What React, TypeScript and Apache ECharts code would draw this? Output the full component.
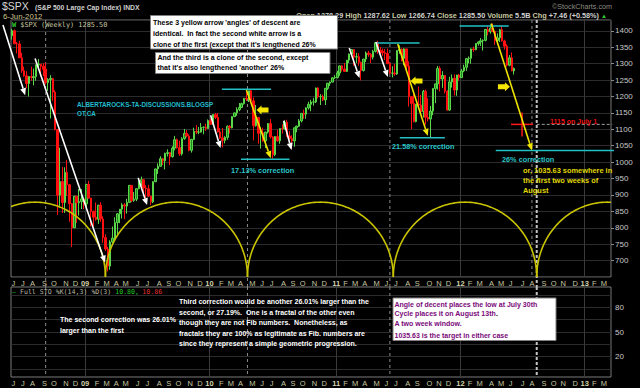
import React, { useEffect, useRef } from 'react';
import * as echarts from 'echarts';

// ---------- data ----------
const START_DATE = '2008-05-30'; // first weekly bar (Friday)
const WEEK_COUNT = 251; // weekly slots on the axis, through March 2013
const FIRST_OPEN = 1385;

const closes = [
  1400.4, 1360.7, 1360.0, 1317.9, 1278.4, 1262.9, 1239.5, 1260.7, 1257.8, 1260.3,
  1296.3, 1298.2, 1292.2, 1282.8, 1242.3, 1251.7, 1255.1, 1213.3, 1099.2, 899.2,
  940.6, 876.8, 968.8, 931.0, 873.3, 800.0, 896.2, 876.1, 879.7, 887.9,
  872.8, 931.8, 890.4, 850.1, 831.9, 825.9, 868.6, 826.8, 770.1, 735.1,
  683.4, 756.6, 768.5, 815.9, 842.5, 856.6, 869.6, 866.2, 877.5, 929.2,
  882.9, 887.0, 919.1, 940.1, 946.2, 921.2, 918.9, 896.4, 879.1, 940.4,
  979.3, 987.5, 1010.5, 1004.1, 1026.1, 1028.9, 1016.4, 1042.7, 1068.3, 1044.4,
  1025.2, 1071.5, 1087.7, 1079.6, 1036.2, 1069.3, 1093.5, 1091.4, 1091.5, 1106.0,
  1106.4, 1102.5, 1126.5, 1115.1, 1145.0, 1136.0, 1091.8, 1073.9, 1066.2, 1075.5,
  1109.2, 1104.5, 1138.7, 1150.0, 1159.9, 1166.6, 1178.1, 1194.4, 1192.1, 1217.3,
  1186.7, 1110.9, 1135.7, 1087.7, 1089.4, 1064.9, 1091.6, 1117.5, 1076.8, 1022.6,
  1078.0, 1064.9, 1102.7, 1101.6, 1121.6, 1079.3, 1071.7, 1064.6, 1104.5, 1109.6,
  1125.6, 1148.7, 1146.2, 1165.2, 1176.2, 1183.1, 1183.3, 1225.9, 1199.2, 1199.7,
  1189.4, 1224.7, 1240.4, 1243.9, 1256.8, 1257.6, 1271.5, 1293.2, 1283.4, 1276.3,
  1310.9, 1329.2, 1343.0, 1319.9, 1321.2, 1304.3, 1279.2, 1313.8, 1332.4, 1328.2,
  1319.7, 1337.4, 1363.6, 1340.2, 1337.8, 1333.3, 1331.1, 1300.2, 1271.0, 1271.5,
  1268.5, 1339.7, 1343.8, 1316.1, 1345.0, 1292.3, 1199.4, 1178.8, 1123.5, 1176.8,
  1174.0, 1154.2, 1216.0, 1136.4, 1131.4, 1155.5, 1224.6, 1238.3, 1285.1, 1253.2,
  1263.9, 1215.7, 1158.7, 1244.3, 1255.2, 1219.7, 1265.3, 1257.6, 1277.8, 1289.1,
  1315.4, 1316.3, 1344.9, 1342.6, 1361.2, 1365.7, 1369.6, 1370.9, 1404.2, 1397.1,
  1408.5, 1398.1, 1370.3, 1378.5, 1403.4, 1369.1, 1353.4, 1295.2, 1317.8, 1278.0, 1285.5,
];

const highs = [
  1406, 1404, 1366, 1370, 1333, 1291, 1277, 1262, 1291, 1285,
  1297, 1314, 1299, 1301, 1303, 1256, 1265, 1256, 1219, 1100,
  1044, 985, 984, 1007, 933, 875, 897, 897, 918, 918,
  890, 934, 943, 891, 852, 877, 870, 878, 835, 780,
  742, 762, 804, 832, 845, 857, 875, 875, 888, 930,
  930, 909, 920, 951, 956, 948, 930, 931, 897, 942,
  980, 996, 1018, 1012, 1029, 1039, 1030, 1048, 1080, 1072,
  1065, 1076, 1101, 1098, 1085, 1071, 1105, 1113, 1107, 1119,
  1108, 1117, 1130, 1133, 1146, 1150, 1150, 1104, 1104, 1079,
  1112, 1113, 1140, 1151, 1167, 1180, 1181, 1195, 1214, 1218,
  1220, 1197, 1174, 1138, 1105, 1105, 1092, 1119, 1131, 1079,
  1079, 1099, 1103, 1115, 1128, 1129, 1095, 1082, 1105, 1111,
  1131, 1149, 1160, 1167, 1184, 1190, 1196, 1227, 1228, 1207,
  1206, 1225, 1241, 1246, 1259, 1265, 1278, 1294, 1296, 1302,
  1311, 1331, 1344, 1344, 1333, 1332, 1306, 1315, 1337, 1339,
  1332, 1342, 1365, 1370, 1351, 1346, 1345, 1346, 1304, 1292,
  1299, 1341, 1356, 1347, 1347, 1346, 1307, 1201, 1208, 1177,
  1230, 1205, 1220, 1221, 1195, 1171, 1225, 1239, 1293, 1292,
  1277, 1265, 1219, 1260, 1267, 1267, 1266, 1269, 1284, 1297,
  1316, 1322, 1346, 1352, 1363, 1368, 1378, 1374, 1405, 1414,
  1420, 1422, 1400, 1392, 1406, 1415, 1373, 1359, 1326, 1334, 1288,
];

const lows = [
  1373, 1359, 1331, 1317, 1272, 1260, 1225, 1200, 1248, 1234,
  1248, 1284, 1261, 1262, 1236, 1217, 1133, 1187, 1097, 839,
  865, 845, 845, 897, 818, 741, 799, 815, 837, 857,
  857, 857, 889, 804, 804, 821, 812, 818, 754, 729,
  667, 672, 751, 764, 779, 814, 828, 826, 843, 875,
  878, 879, 881, 917, 928, 903, 888, 894, 869, 875,
  939, 964, 986, 991, 978, 1017, 991, 1014, 1036, 1041,
  1019, 1020, 1068, 1075, 1033, 1029, 1067, 1085, 1085, 1090,
  1085, 1095, 1102, 1114, 1114, 1131, 1090, 1071, 1045, 1057,
  1068, 1087, 1103, 1137, 1141, 1155, 1165, 1175, 1186, 1183,
  1181, 1066, 1108, 1056, 1041, 1062, 1043, 1087, 1072, 1011,
  1018, 1062, 1056, 1087, 1099, 1077, 1069, 1040, 1047, 1091,
  1107, 1121, 1132, 1132, 1160, 1155, 1172, 1180, 1194, 1174,
  1186, 1174, 1220, 1232, 1243, 1254, 1255, 1263, 1276, 1275,
  1275, 1302, 1325, 1294, 1302, 1294, 1249, 1276, 1305, 1321,
  1302, 1313, 1334, 1330, 1330, 1324, 1311, 1298, 1268, 1258,
  1263, 1266, 1330, 1307, 1295, 1282, 1169, 1101, 1121, 1121,
  1168, 1150, 1136, 1114, 1124, 1074, 1143, 1180, 1221, 1215,
  1226, 1209, 1157, 1157, 1227, 1203, 1202, 1248, 1256, 1274,
  1278, 1301, 1300, 1336, 1341, 1355, 1354, 1340, 1368, 1386,
  1391, 1397, 1357, 1358, 1366, 1367, 1343, 1291, 1292, 1277, 1267,
];

// cycle lows (yellow semicircle cycle lines)
const cycleLows = ['2008-01-11', '2009-02-27', '2010-04-19', '2011-06-20', '2012-08-13', '2013-10-01'];
const CYCLE_BASE = 650;
const CYCLE_PEAK = 878;

// [start date, start price, end date, end price]
const whiteArrows: [string, number, string, number][] = [
  ['2008-05-03', 1418, '2008-07-07', 1204],
  ['2008-08-05', 1316, '2009-02-26', 694],
  ['2009-06-03', 952, '2009-06-29', 869],
  ['2010-01-01', 1143, '2010-01-30', 1043],
  ['2010-08-03', 1126, '2010-08-26', 1037],
  ['2011-02-11', 1348, '2011-03-13', 1256],
  ['2011-04-30', 1366, '2011-06-04', 1259],
];
const yellowArrows: [string, number, string, number][] = [
  ['2010-04-16', 1220, '2010-06-26', 1012],
  ['2011-07-03', 1360, '2011-09-29', 1080],
  ['2012-04-02', 1422, '2012-07-30', 1035.63],
];
// [date, price, direction (-1 left, 1 right)]
const blockArrows: [string, number, number][] = [
  ['2010-06-02', 1159, -1],
  ['2011-08-27', 1247, -1],
  ['2012-05-09', 1230, 1],
];
// cyan horizontal levels [from, to, price]
const cyanLevels: [string, string, number][] = [
  ['2010-02-03', '2010-06-27', 1222],
  ['2010-03-31', '2010-08-20', 1009],
  ['2011-04-30', '2011-09-05', 1363],
  ['2011-07-09', '2011-11-18', 1074],
  ['2011-12-31', '2012-05-23', 1415],
  ['2012-04-15', '2013-03-27', 1035.63],
];
const targetLevel: [string, string, number] = ['2012-08-13', '2013-03-22', 1115];
const crossMark: [string, number] = ['2012-07-01', 1115];
// vertical dashed markers [date, kind]: 0 both panels, 1 price panel only, 2 heavy both panels
const cycleMarkers: [string, number][] = [
  ['2008-09-05', 0],
  ['2010-04-19', 0],
  ['2011-06-10', 0],
  ['2012-07-30', 1],
  ['2012-08-13', 2],
];

// ---------- helpers ----------
const F = '"Liberation Sans", Arial, Helvetica, sans-serif';
const MONO = '"DejaVu Sans Mono", "Liberation Mono", monospace';
const DAY = 86400000;
const T0 = Date.parse(START_DATE);
const weeks = Array.from({ length: WEEK_COUNT }, (_, i) => new Date(T0 + i * 7 * DAY).toISOString().slice(0, 10));
const toIdx = (d: string) => (Date.parse(d) - T0) / (7 * DAY);
const monthStart = weeks.map((w, i) => i > 0 && w.slice(5, 7) !== weeks[i - 1].slice(5, 7));
const yearStart = weeks.map((w, i) => monthStart[i] && w.slice(5, 7) === '01');
const MONTH_INITIALS = ['J', 'F', 'M', 'A', 'M', 'J', 'J', 'A', 'S', 'O', 'N', 'D'];
const xLabel = (i: number) => {
  const w = weeks[i];
  const m = +w.slice(5, 7);
  return m === 1 ? `{y|${w.slice(2, 4)}}` : MONTH_INITIALS[m - 1];
};

const candles = closes.map((c, i) => [i === 0 ? FIRST_OPEN : closes[i - 1], c, lows[i], highs[i]]);

function px(api: any, idx: number, val: number): number[] {
  const a = api.coord([0, val]);
  const b = api.coord([1, val]);
  return [a[0] + (b[0] - a[0]) * idx, a[1]];
}

function arrowShape(p0: number[], p1: number[], color: string, lw: number) {
  const dx = p1[0] - p0[0];
  const dy = p1[1] - p0[1];
  const len = Math.hypot(dx, dy) || 1;
  const ux = dx / len;
  const uy = dy / len;
  const hl = 7;
  const hw = 3;
  const bx = p1[0] - ux * hl;
  const by = p1[1] - uy * hl;
  return {
    type: 'group',
    children: [
      { type: 'line', shape: { x1: p0[0], y1: p0[1], x2: bx, y2: by }, style: { stroke: color, lineWidth: lw } },
      {
        type: 'polygon',
        shape: { points: [[p1[0], p1[1]], [bx - uy * hw, by + ux * hw], [bx + uy * hw, by - ux * hw]] },
        style: { fill: color },
      },
    ],
  };
}

const xAxisFor = (gridIndex: number) => ({
  type: 'category',
  gridIndex,
  data: weeks,
  boundaryGap: true,
  axisLine: { show: false },
  axisTick: { show: false },
  axisLabel: {
    interval: (i: number) => monthStart[i],
    formatter: (_v: string, i: number) => xLabel(i),
    color: '#c8c8a0',
    fontSize: 7.5,
    fontFamily: F,
    margin: 2,
    padding: [0, 2.4, 0, 0],
    rich: { y: { fontWeight: 'bold', color: '#d4d4a8', fontSize: 7.5, fontFamily: F } },
  },
  splitLine: { show: true, interval: (i: number) => yearStart[i], lineStyle: { color: '#3a3a3a', width: 1 } },
});

function T(x: number, y: number, text: string, o: any = {}) {
  return {
    type: 'text',
    x,
    y,
    z: 110,
    silent: true,
    style: {
      text,
      fill: '#ffffff',
      fontSize: 7,
      fontWeight: 'bold',
      fontFamily: F,
      verticalAlign: 'middle',
      align: 'left',
      ...o,
    },
  };
}
function box(x: number, y: number, w: number, h: number) {
  return {
    type: 'rect',
    z: 105,
    silent: true,
    shape: { x, y, width: w, height: h },
    style: { fill: '#ffffff', stroke: '#808080', lineWidth: 1 },
  };
}

function buildOption() {
  const arcData = cycleLows.slice(0, -1).map((d, i) => [0, 1000, toIdx(d), toIdx(cycleLows[i + 1])]);
  const arrowData = [
    ...whiteArrows.map((a) => [0, 1000, toIdx(a[0]), a[1], toIdx(a[2]), a[3], 0]),
    ...yellowArrows.map((a) => [0, 1000, toIdx(a[0]), a[1], toIdx(a[2]), a[3], 1]),
  ];
  const levelData = [
    ...cyanLevels.map((l) => [0, 1000, toIdx(l[0]), toIdx(l[1]), l[2], 0]),
    [0, 1000, toIdx(targetLevel[0]), toIdx(targetLevel[1]), targetLevel[2], 1],
    [0, 1000, toIdx(crossMark[0]), toIdx(crossMark[0]), crossMark[1], 2],
  ];
  const blockData = blockArrows.map((b) => [0, 1000, toIdx(b[0]), b[1], b[2]]);
  const markerMain = cycleMarkers.map((m) => [0, 1000, toIdx(m[0]), m[1]]);
  const markerLow = cycleMarkers.filter((m) => m[1] !== 1).map((m) => [0, 50, toIdx(m[0]), m[1]]);

  const graphic: any[] = [
    // title
    T(2, 6.2, '$SPX', { fontSize: 10.5, fontWeight: 'normal', fill: '#d8d8d8' }),
    T(35, 7, '(S&P 500 Large Cap Index) INDX', { fontSize: 6.8, fill: '#d0d0d0' }),
    T(3, 16.3, '6-Jun-2012', { fontSize: 7.8, fontWeight: 'normal', fill: '#d2c48e' }),
    T(612, 6.5, '©StockCharts.com', { fontSize: 7.2, fontWeight: 'normal', fill: '#8c8c80', align: 'right' }),
    {
      type: 'text',
      x: 607,
      y: 15.5,
      z: 100,
      silent: true,
      style: {
        text:
          '{l|Open} {v|1278.29} {l|High} {v|1287.62} {l|Low} {v|1266.74} {l|Close} {v|1285.50} {l|Volume} {v|5.5B} {l|Chg} {v|+7.46 (+0.58%)} {g|▲}',
        align: 'right',
        verticalAlign: 'middle',
        fontSize: 7.3,
        fontWeight: 'bold',
        fontFamily: F,
        fill: '#c8c8a0',
        rich: {
          l: { fill: '#c8c8a0', fontSize: 7.3, fontWeight: 'bold', fontFamily: F },
          v: { fill: '#d0d0d0', fontSize: 7.3, fontWeight: 'bold', fontFamily: F },
          g: { fill: '#33cc33', fontSize: 6, fontFamily: F },
        },
      },
    },
    // price legend
    {
      type: 'text',
      x: 12,
      y: 24.5,
      z: 100,
      silent: true,
      style: {
        text: '{g|W}{t| $SPX (Weekly) 1285.50}',
        verticalAlign: 'middle',
        rich: {
          g: { fill: '#33cc33', fontSize: 6.9, fontWeight: 'bold', fontFamily: MONO },
          t: { fill: '#c8c8a0', fontSize: 6.9, fontFamily: MONO },
        },
      },
    },
    // stochastic legend
    {
      type: 'text',
      x: 12,
      y: 291.7,
      z: 100,
      silent: true,
      style: {
        text: '{g|—}{t| Full STO %K(14,3) %D(3) }{g|10.80,} {r|10.86}',
        verticalAlign: 'middle',
        rich: {
          g: { fill: '#22cc22', fontSize: 6.6, fontFamily: MONO },
          t: { fill: '#b8b8a0', fontSize: 6.6, fontFamily: MONO },
          r: { fill: '#e03030', fontSize: 6.6, fontFamily: MONO },
        },
      },
    },
    // note box 1
    box(150.5, 15.5, 187, 33.5),
    T(153, 22, "These 3 yellow arrow 'angles' of descent are", { fill: '#000' }),
    T(153, 33.5, 'identical.  In fact the second white arrow is a', { fill: '#000' }),
    T(153, 44.5, "clone of the first (except that it's lengthened 26%", { fill: '#000' }),
    // note box 2
    box(155.5, 52.5, 174.5, 21),
    T(157.5, 57.5, 'And the third is a clone of the second, except', { fill: '#000' }),
    T(157.5, 67.5, "that it's also lengthened 'another' 26%", { fill: '#000' }),
    // blog
    T(77, 104.3, 'ALBERTAROCKS-TA-DISCUSSIONS.BLOGSP', { fill: '#22bccc', fontSize: 6.3 }),
    T(77, 113.5, 'OT.CA', { fill: '#22bccc', fontSize: 6.3 }),
    // corrections
    T(231, 170.3, '17.13% correction', { fill: '#29c5c9', fontSize: 7.4 }),
    T(392, 146, '21.58% correction', { fill: '#29c5c9', fontSize: 7.3 }),
    T(502, 159.5, '26% correction', { fill: '#29c5c9', fontSize: 7.3 }),
    T(523, 170.3, 'or, 1035.63 somewhere in', { fill: '#e0d800', fontSize: 7.4 }),
    T(523, 180.3, 'the first two weeks of', { fill: '#e0d800', fontSize: 7.4 }),
    T(523, 190.3, 'August', { fill: '#e0d800', fontSize: 7.4 }),
    T(550, 121.8, '1115 on July 1', { fill: '#ee1111', fontSize: 7 }),
    // lower panel notes
    T(60, 319.3, 'The second correction was 26.01%'),
    T(60, 330, 'larger than the first'),
    T(179, 301.7, 'Third correction would be another 26.01% larger than the'),
    T(179, 312.3, 'second, or 27.19%.  One is a fractal of the other even'),
    T(179, 322.8, 'though they are not Fib numbers.  Nonetheless, as'),
    T(179, 333.3, 'fractals they are 100% as legitimate as Fib. numbers are'),
    T(179, 343.8, 'since they represent a simple geometric progression.'),
    box(393, 298, 163, 42.5),
    T(394.5, 304, 'Angle of decent places the low at July 30th', { fill: '#7a0a7a' }),
    {
      type: 'text',
      x: 394.5,
      y: 313.8,
      z: 110,
      silent: true,
      style: {
        text: '{p|Cycle places it on August 13th}{k|.}',
        verticalAlign: 'middle',
        rich: {
          p: { fill: '#7a0a7a', fontSize: 7, fontWeight: 'bold', fontFamily: F },
          k: { fill: '#000', fontSize: 7, fontWeight: 'bold', fontFamily: F },
        },
      },
    },
    T(394.5, 323, 'A two week window.', { fill: '#7a0a7a' }),
    T(394.5, 335.5, '1035.63 is the target in either case', { fill: '#7a0a7a' }),
  ];

  return {
    animation: false,
    backgroundColor: '#000000',
    graphic,
    grid: [
      { left: 11, top: 20, width: 600, height: 257, show: true, borderColor: '#7a7a7a', borderWidth: 1, backgroundColor: '#000' },
      { left: 11, top: 287, width: 600, height: 90, show: true, borderColor: '#7a7a7a', borderWidth: 1, backgroundColor: '#000' },
    ],
    xAxis: [xAxisFor(0), xAxisFor(1)],
    yAxis: [
      {
        type: 'value',
        gridIndex: 0,
        position: 'right',
        min: 650,
        max: 1433,
        interval: 50,
        axisLine: { show: false },
        axisTick: { show: true, length: 3, lineStyle: { color: '#8a8a8a' } },
        axisLabel: {
          formatter: (v: number) => String(v),
          color: '#c8c8c8',
          fontSize: 8,
          fontFamily: F,
          margin: 4,
          showMinLabel: false,
          showMaxLabel: false,
        },
        splitLine: { lineStyle: { color: '#2c2c2c' } },
      },
      {
        type: 'value',
        gridIndex: 1,
        position: 'right',
        min: -5,
        max: 105,
        interval: 5,
        axisLine: { show: false },
        axisTick: { show: false },
        axisLabel: {
          formatter: (v: number) => (v === 20 || v === 50 || v === 80 ? String(v) : ''),
          color: '#c8c8c8',
          fontSize: 8,
          fontFamily: F,
          margin: 4,
        },
        splitLine: { lineStyle: { color: ['rgba(0,0,0,0)', 'rgba(0,0,0,0)', '#2c2c2c'] } },
      },
    ],
    series: [
      {
        type: 'custom',
        name: 'markersMain',
        xAxisIndex: 0,
        yAxisIndex: 0,
        data: markerMain,
        encode: { x: 0, y: 1 },
        silent: true,
        z: 1,
        clip: false,
        renderItem: (_p: any, api: any) => {
          const idx = api.value(2);
          const kind = api.value(3);
          const top = px(api, idx, 1433);
          const bot = px(api, idx, 650);
          return {
            type: 'line',
            shape: { x1: top[0], y1: top[1], x2: bot[0], y2: bot[1] + (kind === 1 ? 0 : 10) },
            style: kind === 2
              ? { stroke: '#c4c4c4', lineWidth: 2, lineDash: [3, 2] }
              : { stroke: '#8a8a8a', lineWidth: 1, lineDash: [3, 3] },
          };
        },
      },
      {
        type: 'custom',
        name: 'markersLow',
        xAxisIndex: 1,
        yAxisIndex: 1,
        data: markerLow,
        encode: { x: 0, y: 1 },
        silent: true,
        z: 1,
        clip: false,
        renderItem: (_p: any, api: any) => {
          const idx = api.value(2);
          const kind = api.value(3);
          const top = px(api, idx, 105);
          const bot = px(api, idx, -5);
          return {
            type: 'line',
            shape: { x1: top[0], y1: top[1], x2: bot[0], y2: bot[1] },
            style: kind === 2
              ? { stroke: '#c4c4c4', lineWidth: 2, lineDash: [3, 2] }
              : { stroke: '#8a8a8a', lineWidth: 1, lineDash: [3, 3] },
          };
        },
      },
      {
        type: 'candlestick',
        name: '$SPX',
        xAxisIndex: 0,
        yAxisIndex: 0,
        data: candles,
        barWidth: 2,
        z: 2,
        itemStyle: {
          color: '#1f8a1f',
          color0: '#ff1010',
          borderColor: '#5ad84a',
          borderColor0: '#ff1010',
          borderWidth: 1,
        },
      },
      {
        type: 'custom',
        name: 'cycles',
        xAxisIndex: 0,
        yAxisIndex: 0,
        data: arcData,
        encode: { x: 0, y: 1 },
        silent: true,
        z: 3,
        clip: true,
        renderItem: (_p: any, api: any) => {
          const a = api.value(2);
          const b = api.value(3);
          const pa = px(api, a, CYCLE_BASE);
          const pb = px(api, b, CYCLE_BASE);
          const pt = px(api, a, CYCLE_PEAK);
          const cx = (pa[0] + pb[0]) / 2;
          const rx = (pb[0] - pa[0]) / 2;
          const ry = pa[1] - pt[1];
          const points: number[][] = [];
          for (let k = 0; k <= 120; k++) {
            const th = Math.PI * (1 - k / 120);
            points.push([cx + rx * Math.cos(th), pa[1] - ry * Math.sin(th)]);
          }
          return { type: 'polyline', shape: { points }, style: { stroke: '#cac400', lineWidth: 1.6, fill: null } };
        },
      },
      {
        type: 'custom',
        name: 'levels',
        xAxisIndex: 0,
        yAxisIndex: 0,
        data: levelData,
        encode: { x: 0, y: 1 },
        silent: true,
        z: 4,
        clip: false,
        renderItem: (_p: any, api: any) => {
          const kind = api.value(5);
          const p0 = px(api, api.value(2), api.value(4));
          const p1 = px(api, api.value(3), api.value(4));
          if (kind === 2) {
            return {
              type: 'group',
              children: [
                { type: 'line', shape: { x1: p0[0] - 11, y1: p0[1], x2: p0[0] + 11, y2: p0[1] }, style: { stroke: '#ff1a1a', lineWidth: 1.5 } },
                { type: 'line', shape: { x1: p0[0], y1: p0[1] - 12, x2: p0[0], y2: p0[1] + 12 }, style: { stroke: '#ff1a1a', lineWidth: 1.5 } },
              ],
            };
          }
          return {
            type: 'line',
            shape: { x1: p0[0], y1: p0[1], x2: p1[0], y2: p1[1] },
            style: kind === 1
              ? { stroke: '#9a9a9a', lineWidth: 1, lineDash: [3, 2] }
              : { stroke: '#22c0c4', lineWidth: 1.5 },
          };
        },
      },
      {
        type: 'custom',
        name: 'arrows',
        xAxisIndex: 0,
        yAxisIndex: 0,
        data: arrowData,
        encode: { x: 0, y: 1 },
        silent: true,
        z: 5,
        clip: false,
        renderItem: (_p: any, api: any) => {
          const p0 = px(api, api.value(2), api.value(3));
          const p1 = px(api, api.value(4), api.value(5));
          const yellow = api.value(6) === 1;
          return arrowShape(p0, p1, yellow ? '#f0e400' : '#ffffff', 1.6);
        },
      },
      {
        type: 'custom',
        name: 'blockArrows',
        xAxisIndex: 0,
        yAxisIndex: 0,
        data: blockData,
        encode: { x: 0, y: 1 },
        silent: true,
        z: 5,
        clip: false,
        renderItem: (_p: any, api: any) => {
          const c = px(api, api.value(2), api.value(3));
          const s = api.value(4);
          const base = [[-6, -2.5], [1, -2.5], [1, -4.5], [6, 0], [1, 4.5], [1, 2.5], [-6, 2.5]];
          const points = base.map(([x, y]) => [c[0] + s * x, c[1] + y]);
          return { type: 'polygon', shape: { points }, style: { fill: '#f4e600' } };
        },
      },
    ],
  };
}

export default function App() {
  const ref = useRef<HTMLDivElement>(null);
  useEffect(() => {
    if (!ref.current) return;
    const chart = echarts.init(ref.current, null, { renderer: 'svg' });
    chart.setOption(buildOption() as any);
    return () => chart.dispose();
  }, []);
  return (
    <div
      ref={ref}
      style={{ position: 'fixed', left: 0, top: 0, width: 640, height: 388, background: '#000' }}
    />
  );
}
